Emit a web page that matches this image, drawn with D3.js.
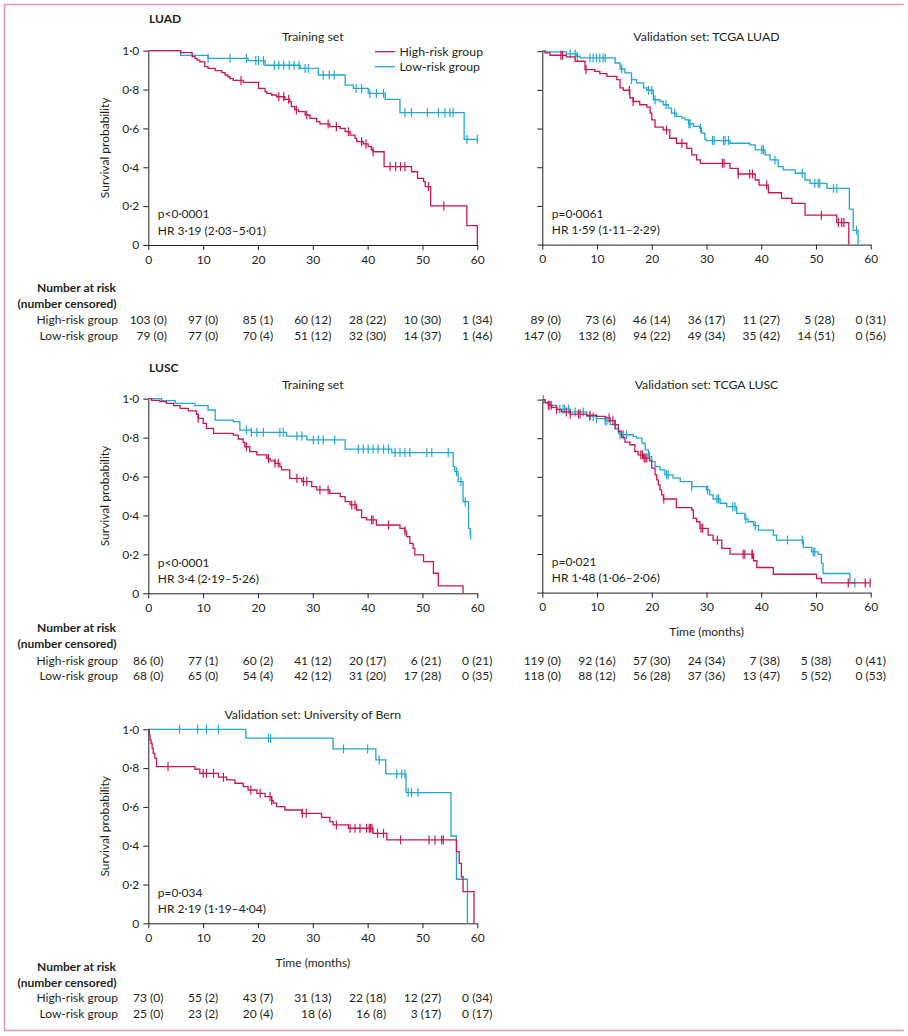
<!DOCTYPE html>
<html><head><meta charset="utf-8">
<script src="https://cdn.jsdelivr.net/npm/d3@7"></script>
<style>
body{margin:0;background:#fff}
svg text{font-family:Lato,"Noto Sans",sans-serif;fill:#231f20}
</style></head><body>
<svg id="chart" width="908" height="1036"></svg>
<script>
// ---------- shared tick values / labels ----------
const xTicks = [0,10,20,30,40,50,60];
const yTicks = [0,0.2,0.4,0.6,0.8,1.0];
const yTickLabels = ["0","0·2","0·4","0·6","0·8","1·0"];
const groupNames = ["High-risk group","Low-risk group"];

// ---------- LUAD training set ----------
const luadTrainHighEvents = [[5.9,0.990],[8.0,0.969],[8.5,0.960],[8.9,0.951],[9.4,0.943],[10.3,0.918],[10.9,0.909],[12.2,0.897],[13.4,0.887],[14.0,0.875],[14.5,0.866],[14.9,0.856],[15.5,0.847],[17.3,0.837],[20.1,0.806],[21.3,0.789],[21.6,0.780],[22.5,0.772],[23.4,0.763],[24.9,0.750],[25.8,0.738],[26.1,0.712],[26.7,0.695],[27.4,0.686],[28.6,0.669],[29.5,0.652],[30.7,0.635],[31.3,0.623],[33.1,0.609],[35.0,0.600],[35.9,0.583],[36.8,0.566],[37.7,0.549],[38.0,0.532],[39.2,0.520],[40.1,0.506],[40.7,0.489],[41.0,0.480],[43.0,0.403],[48.0,0.377],[49.1,0.343],[50.2,0.326],[50.5,0.300],[51.5,0.201],[58.1,0.100],[60.0,0]];
const luadTrainHighCensored = [16.9,23.8,24.7,25.6,27.0,28.9,32.8,34.3,36.5,38.9,39.7,41.0,44.1,45.1,46.0,46.8,51.1,53.9];
const luadTrainLowEvents = [[5.9,0.976],[10.9,0.961],[18.2,0.949],[21.3,0.925],[27.7,0.909],[31.0,0.875],[35.9,0.823],[37.4,0.806],[40.1,0.780],[43.2,0.750],[45.9,0.681],[57.6,0.544]];
const luadTrainLowCensored = [10.9,14.9,17.9,19.6,20.1,21.0,23.0,23.8,24.7,25.7,26.6,27.5,28.6,29.2,31.9,33.0,33.9,37.9,38.9,40.4,41.6,42.9,46.8,48.0,50.9,52.9,54.1,55.0,55.6,58.1,60.0];
const luadTrainHighRisk = [[103,0],[97,0],[85,1],[60,12],[28,22],[10,30],[1,34]];
const luadTrainLowRisk = [[79,0],[77,0],[70,4],[51,12],[32,30],[14,37],[1,46]];

// ---------- TCGA LUAD ----------
const tcgaLuadHighEvents = [[0.5,0.991],[1.4,0.979],[4.4,0.971],[6.0,0.948],[7.8,0.905],[9.6,0.896],[10.5,0.884],[11.8,0.870],[13.6,0.853],[14.2,0.810],[14.8,0.798],[16.0,0.758],[16.6,0.740],[17.8,0.723],[19.1,0.711],[19.7,0.680],[20.0,0.645],[20.6,0.607],[22.1,0.593],[23.3,0.550],[24.5,0.524],[26.4,0.498],[27.3,0.464],[28.2,0.438],[28.9,0.420],[34.3,0.394],[35.8,0.365],[38.9,0.334],[39.6,0.308],[41.3,0.268],[43.7,0.239],[45.6,0.213],[48.0,0.152],[53.8,0.114],[56.0,0]];
const tcgaLuadHighCensored = [3.4,3.7,8.0,15.9,16.6,22.7,25.5,32.9,33.2,35.8,37.9,38.4,41.0,51.0,54.1,54.7,55.1];
const tcgaLuadLowEvents = [[0.5,0.997],[4.4,0.986],[6.3,0.974],[6.9,0.965],[13.3,0.939],[14.2,0.908],[15.1,0.888],[16.3,0.853],[17.2,0.836],[18.5,0.810],[19.1,0.798],[20.3,0.749],[21.5,0.740],[22.1,0.723],[23.0,0.706],[23.6,0.680],[24.5,0.663],[25.5,0.654],[26.1,0.645],[26.7,0.625],[27.6,0.611],[28.8,0.602],[29.1,0.576],[29.7,0.545],[30.0,0.538],[34.3,0.524],[37.9,0.516],[38.9,0.490],[40.7,0.464],[41.6,0.438],[43.1,0.403],[44.0,0.386],[46.2,0.369],[48.0,0.334],[48.9,0.317],[52.0,0.291],[56.1,0.183],[56.8,0.074],[57.7,0]];
const tcgaLuadLowCensored = [5.1,6.0,6.4,8.7,9.3,9.9,10.5,11.1,11.5,14.5,16.3,19.4,20.0,20.6,22.6,24.2,26.8,27.0,28.9,31.1,31.4,33.1,33.4,34.0,40.1,40.4,42.5,47.5,49.8,50.4,50.7,53.2,53.8,57.4];
const tcgaLuadHighRisk = [[89,0],[73,6],[46,14],[36,17],[11,27],[5,28],[0,31]];
const tcgaLuadLowRisk = [[147,0],[132,8],[94,22],[49,34],[35,42],[14,51],[0,56]];

// ---------- LUSC training set ----------
const luscTrainHighEvents = [[0.6,0.991],[2.1,0.985],[3.3,0.976],[4.6,0.964],[5.8,0.950],[7.3,0.937],[8.8,0.920],[9.1,0.899],[10.0,0.873],[10.6,0.848],[11.9,0.822],[15.5,0.813],[16.4,0.793],[17.3,0.776],[17.6,0.753],[18.5,0.728],[19.8,0.711],[21.6,0.693],[22.2,0.680],[23.1,0.668],[24.0,0.651],[24.3,0.634],[25.8,0.591],[28.0,0.574],[29.8,0.548],[30.7,0.531],[33.1,0.514],[35.0,0.497],[35.9,0.471],[36.8,0.454],[38.0,0.428],[38.9,0.389],[39.8,0.377],[41.6,0.351],[45.9,0.334],[46.8,0.320],[47.1,0.291],[47.7,0.257],[48.3,0.231],[48.6,0.197],[50.2,0.163],[52.0,0.103],[52.9,0.038],[57.4,0]];
const luscTrainHighCensored = [9.1,17.9,21.9,23.1,23.7,27.1,28.3,28.9,31.3,32.8,37.1,37.7,40.7,41.0,43.8,46.8];
const luscTrainLowEvents = [[2.4,0.990],[4.9,0.976],[8.5,0.964],[10.9,0.942],[12.2,0.890],[15.5,0.882],[16.7,0.839],[18.8,0.827],[25.2,0.808],[28.9,0.788],[35.9,0.741],[44.4,0.723],[55.6,0.651],[55.9,0.625],[56.5,0.574],[57.4,0.471],[58.4,0.334],[58.7,0.300]];
const luscTrainLowCensored = [17.9,18.8,19.8,21.0,24.0,24.6,27.1,28.0,30.1,31.0,31.9,34.0,38.3,39.2,40.1,41.0,41.9,42.9,43.8,45.0,45.9,46.8,47.7,50.8,51.7,54.7,56.2,57.0,57.8,58.8];
const luscTrainHighRisk = [[86,0],[77,1],[60,2],[41,12],[20,17],[6,21],[0,21]];
const luscTrainLowRisk = [[68,0],[65,0],[54,4],[42,12],[31,20],[17,28],[0,35]];

// ---------- TCGA LUSC ----------
const tcgaLuscHighEvents = [[0.5,0.983],[1.1,0.971],[1.7,0.960],[2.6,0.948],[3.5,0.936],[5.1,0.925],[8.1,0.919],[9.9,0.913],[11.5,0.905],[12.4,0.891],[13.3,0.870],[13.9,0.835],[14.5,0.804],[15.1,0.780],[16.0,0.766],[16.9,0.731],[17.5,0.714],[18.5,0.697],[19.6,0.683],[20.0,0.645],[20.6,0.610],[20.9,0.584],[21.2,0.558],[21.5,0.532],[21.8,0.506],[22.1,0.485],[24.5,0.440],[27.3,0.428],[27.6,0.385],[28.2,0.367],[28.8,0.333],[30.3,0.298],[31.2,0.272],[32.8,0.229],[34.3,0.199],[38.6,0.165],[39.2,0.130],[42.2,0.095],[50.1,0.073],[51.0,0.050]];
const tcgaLuscHighCensored = [1.1,1.4,2.6,4.4,5.1,6.6,6.9,8.7,12.2,12.9,13.3,18.0,18.3,18.6,18.8,19.1,22.2,29.0,29.3,32.0,36.7,37.0,38.3,38.4,55.9,59.0,59.9];
const tcgaLuscLowEvents = [[0.5,0.986],[1.4,0.970],[2.6,0.951],[5.1,0.936],[8.1,0.913],[9.9,0.901],[11.5,0.891],[12.4,0.870],[13.3,0.849],[13.9,0.827],[14.2,0.818],[16.6,0.809],[17.2,0.800],[18.2,0.775],[18.8,0.740],[19.4,0.705],[20.0,0.679],[20.6,0.653],[21.5,0.636],[22.4,0.610],[23.9,0.593],[25.2,0.575],[27.3,0.549],[30.0,0.532],[30.6,0.506],[31.2,0.485],[32.5,0.463],[33.7,0.445],[35.5,0.411],[37.0,0.381],[37.6,0.367],[38.6,0.347],[39.5,0.324],[42.2,0.298],[42.8,0.272],[47.7,0.234],[49.2,0.211],[50.4,0.198],[51.0,0.151],[51.3,0.099],[56.2,0.050]];
const tcgaLuscLowCensored = [0.2,1.7,3.2,3.8,4.1,4.8,6.0,7.5,8.7,9.3,9.9,11.5,11.8,14.2,14.8,15.4,19.6,22.7,23.0,27.3,30.2,31.9,32.2,34.8,35.2,37.2,38.9,44.8,47.5,49.5,49.8,57.1];
const tcgaLuscHighRisk = [[119,0],[92,16],[57,30],[24,34],[7,38],[5,38],[0,41]];
const tcgaLuscLowRisk = [[118,0],[88,12],[56,28],[37,36],[13,47],[5,52],[0,53]];

// ---------- University of Bern ----------
const bernHighEvents = [[0.2,0.971],[0.3,0.945],[0.5,0.928],[0.7,0.902],[0.9,0.876],[1.2,0.851],[1.5,0.808],[8.5,0.794],[9.4,0.773],[12.8,0.753],[14.3,0.739],[15.8,0.722],[17.3,0.704],[18.2,0.687],[19.8,0.670],[21.3,0.653],[22.5,0.632],[22.8,0.619],[23.4,0.601],[24.9,0.584],[28.0,0.567],[31.6,0.546],[33.1,0.524],[33.7,0.507],[36.5,0.490],[41.0,0.464],[43.5,0.430],[56.2,0.369],[56.7,0.309],[57.1,0.240],[57.4,0.163],[59.4,0]];
const bernHighCensored = [3.6,10.0,10.6,11.9,13.7,18.7,20.4,22.2,22.5,28.1,28.8,34.3,36.8,37.7,38.6,39.8,40.3,40.5,40.8,41.8,42.9,46.0,51.2,52.3,53.5,53.8];
const bernLowEvents = [[17.8,0.954],[33.7,0.899],[41.5,0.842],[43.3,0.770],[47.0,0.674],[55.2,0.450],[56.2,0.227],[58.2,0]];
const bernLowCensored = [5.7,9.0,10.6,12.8,21.9,22.3,35.6,40.0,42.1,45.3,46.2,46.8,47.4,48.0,49.2];
const bernHighRisk = [[73,0],[55,2],[43,7],[31,13],[22,18],[12,27],[0,34]];
const bernLowRisk = [[25,0],[23,2],[20,4],[18,6],[16,8],[3,17],[0,17]];

// ---------- drawing ----------
const RED = "#c8184f", BLUE = "#22a7d2", INK = "#231f20";
const svg = d3.select("#chart");
svg.append("path").attr("d","M904,4.5H4.5V1030.5H904")
  .attr("fill","none").attr("stroke","#e896b2").attr("stroke-width",1.6);

const panels = [
  {x0:148.3,x1:477.3,y0:50.7,y1:245,title:"Training set",yLab:true,
   hi:[luadTrainHighEvents,luadTrainHighCensored], lo:[luadTrainLowEvents,luadTrainLowCensored],
   p:"p<0·0001", hr:"HR 3·19 (2·03–5·01)", xLab:false},
  {x0:542.3,x1:870.7,y0:51.2,y1:244.6,title:"Validation set: TCGA LUAD",yLab:false,
   hi:[tcgaLuadHighEvents,tcgaLuadHighCensored], lo:[tcgaLuadLowEvents,tcgaLuadLowCensored],
   p:"p=0·0061", hr:"HR 1·59 (1·11–2·29)", xLab:false},
  {x0:148.3,x1:477.3,y0:398.7,y1:593.3,title:"Training set",yLab:true,
   hi:[luscTrainHighEvents,luscTrainHighCensored], lo:[luscTrainLowEvents,luscTrainLowCensored],
   p:"p<0·0001", hr:"HR 3·4 (2·19–5·26)", xLab:false},
  {x0:542.3,x1:870.7,y0:399.6,y1:592.6,title:"Validation set: TCGA LUSC",yLab:false,
   hi:[tcgaLuscHighEvents,tcgaLuscHighCensored], lo:[tcgaLuscLowEvents,tcgaLuscLowCensored],
   p:"p=0·021", hr:"HR 1·48 (1·06–2·06)", xLab:true},
  {x0:148.3,x1:477.3,y0:729.3,y1:923.3,title:"Validation set: University of Bern",yLab:true,
   hi:[bernHighEvents,bernHighCensored], lo:[bernLowEvents,bernLowCensored],
   p:"p=0·034", hr:"HR 2·19 (1·19–4·04)", xLab:true}
];

function survAt(events, t){
  let s = 1;
  for (const [et, es] of events){ if (et <= t + 1e-9) s = es; else break; }
  return s;
}

function drawPanel(p){
  const x = d3.scaleLinear().domain([0,60]).range([p.x0,p.x1]);
  const y = d3.scaleLinear().domain([0,1]).range([p.y1,p.y0]);
  p.x = x; p.y = y;
  const g = svg.append("g");

  const xa = g.append("g").attr("transform",`translate(0,${p.y1})`)
    .call(d3.axisBottom(x).tickValues(xTicks).tickSize(5).tickSizeOuter(0).tickPadding(5));
  const ya = g.append("g").attr("transform",`translate(${p.x0},0)`)
    .call(d3.axisLeft(y).tickValues(yTicks).tickSize(5).tickSizeOuter(0).tickPadding(4)
      .tickFormat((d,i)=> p.yLab ? yTickLabels[i] : ""));
  [xa,ya].forEach(a=>{
    a.attr("font-family",null).attr("font-size",null);
    a.selectAll("path,line").attr("stroke",INK).attr("stroke-width",1);
    a.selectAll("text").style("font-size","12px").attr("fill",INK);
  });

  const line = d3.line().x(d=>x(d[0])).y(d=>y(d[1])).curve(d3.curveStepAfter);
  [[p.lo,BLUE],[p.hi,RED]].forEach(([[ev,cens],col])=>{
    const last = ev[ev.length-1];
    const end = Math.max(last[0], d3.max(cens) || 0);
    const pts = [[0,1], ...ev, [end, last[1]]];
    g.append("path").attr("d",line(pts)).attr("fill","none")
      .attr("stroke",col).attr("stroke-width",1.3);
    g.selectAll(null).data(cens).enter().append("line")
      .attr("x1",d=>x(d)).attr("x2",d=>x(d))
      .attr("y1",d=>y(survAt(ev,d))-4.5).attr("y2",d=>y(survAt(ev,d))+4.5)
      .attr("stroke",col).attr("stroke-width",1.2);
  });

  g.append("text").attr("x",(p.x0+p.x1)/2 + (p.yLab?0:0)).attr("y",p.y0-14.5).attr("dy","0.35em")
    .attr("text-anchor","middle").style("font-size","12.3px").text(p.title);
  g.append("text").attr("x",p.x0+9.5).attr("y",p.y1-31).attr("dy","0.35em")
    .style("font-size","12px").text(p.p);
  g.append("text").attr("x",p.x0+9.5).attr("y",p.y1-14.5).attr("dy","0.35em")
    .style("font-size","12px").text(p.hr);
  if (p.yLab){
    g.append("text").attr("transform",`translate(105,${(p.y0+p.y1)/2}) rotate(-90)`)
      .attr("dy","0.35em").attr("text-anchor","middle").style("font-size","12px")
      .text("Survival probability");
  }
  if (p.xLab){
    g.append("text").attr("x",(p.x0+p.x1)/2).attr("y",p.y1+39).attr("dy","0.35em")
      .attr("text-anchor","middle").style("font-size","12px").text("Time (months)");
  }
}
panels.forEach(drawPanel);

// section labels
svg.append("text").attr("x",149).attr("y",19).attr("dy","0.35em").style("font-size","12px")
  .style("font-weight","bold").text("LUAD");
svg.append("text").attr("x",149).attr("y",368).attr("dy","0.35em").style("font-size","12px")
  .style("font-weight","bold").text("LUSC");

// legend
const leg = svg.append("g");
[[RED,51.7,groupNames[0]],[BLUE,66.7,groupNames[1]]].forEach(([c,yy,t])=>{
  leg.append("line").attr("x1",375).attr("x2",395).attr("y1",yy).attr("y2",yy)
    .attr("stroke",c).attr("stroke-width",1.3);
  leg.append("text").attr("x",399.5).attr("y",yy).attr("dy","0.35em")
    .style("font-size","12.3px").text(t);
});

// risk tables
const fmt = d => `${d[0]} (${d[1]})`;
function drawTable(rows, tables){
  const g = svg.append("g");
  g.append("text").attr("x",116).attr("y",rows[0]).attr("dy","0.35em").attr("text-anchor","end")
    .style("font-size","12px").style("font-weight","bold").text("Number at risk");
  g.append("text").attr("x",116.5).attr("y",rows[1]).attr("dy","0.35em").attr("text-anchor","end")
    .style("font-size","12px").style("font-weight","bold").text("(number censored)");
  groupNames.forEach((n,i)=>{
    g.append("text").attr("x",118).attr("y",rows[2+i]).attr("dy","0.35em").attr("text-anchor","end")
      .style("font-size","12px").text(n);
  });
  tables.forEach(([panel, hi, lo])=>{
    xTicks.forEach((t,i)=>{
      const texts = [hi[i], lo[i]].map((d,k)=> g.append("text")
        .attr("y",rows[2+k]).attr("dy","0.35em").attr("text-anchor","end")
        .style("font-size","12px").text(fmt(d)));
      const w = d3.max(texts, s=>s.node().getComputedTextLength());
      texts.forEach(s=>s.attr("x", panel.x(t) + w/2));
    });
  });
}
drawTable([288,303.5,320,335.5],[[panels[0],luadTrainHighRisk,luadTrainLowRisk],[panels[1],tcgaLuadHighRisk,tcgaLuadLowRisk]]);
drawTable([628,644,660.5,676],[[panels[2],luscTrainHighRisk,luscTrainLowRisk],[panels[3],tcgaLuscHighRisk,tcgaLuscLowRisk]]);
drawTable([967,982.5,998,1014],[[panels[4],bernHighRisk,bernLowRisk]]);
</script>
</body></html>
